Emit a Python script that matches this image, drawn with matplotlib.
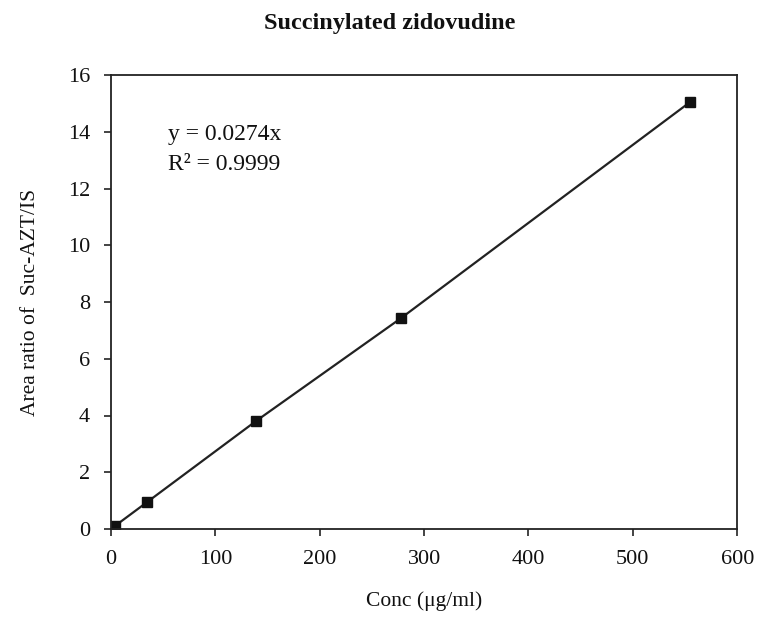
import matplotlib.pyplot as plt

# calibration standards for succinylated zidovudine
conc = [4.3, 34.7, 138.8, 277.5, 555.0]
area_ratio = [0.12, 0.95, 3.8, 7.42, 15.05]
x_ticks = [0, 100, 200, 300, 400, 500, 600]
y_ticks = [0, 2, 4, 6, 8, 10, 12, 14, 16]

plt.rcParams["font.family"] = ["Liberation Serif", "DejaVu Serif"]

fig = plt.figure(figsize=(7.6, 6.25), dpi=100)
ax = fig.add_axes([0.146, 0.1536, 0.824, 0.7264])

ax.plot(conc, area_ratio, color="#222222", linewidth=1.6,
        marker="s", markersize=7, markerfacecolor="#111111",
        markeredgecolor="#111111")

ax.set_xlim(0, 600)
ax.set_ylim(0, 16)
ax.set_xticks(x_ticks)
ax.set_yticks(y_ticks)
ax.tick_params(direction="out", length=5, width=1.1, labelsize=16,
               colors="#111111")
ax.tick_params(axis="x", pad=10)
ax.tick_params(axis="y", pad=10)
for spine in ax.spines.values():
    spine.set_linewidth(1.3)
    spine.set_color("#222222")

ax.text(55, 13.9, "y = 0.0274x", fontsize=17, va="center", color="#111111")
ax.text(55, 12.85, "R\u00b2 = 0.9999", fontsize=17, va="center",
        color="#111111")

ax.set_xlabel("Conc (\u03bcg/ml)", fontsize=15.5, labelpad=16, color="#111111")
ax.set_ylabel("Area ratio of  Suc-AZT/IS", fontsize=15.5, labelpad=20,
              color="#111111")
fig.text(0.5125, 0.963, "Succinylated zidovudine", fontsize=17.5,
         fontweight="bold", ha="center", va="center", color="#111111")

fig.savefig("out.png", dpi=100)
plt.close(fig)
